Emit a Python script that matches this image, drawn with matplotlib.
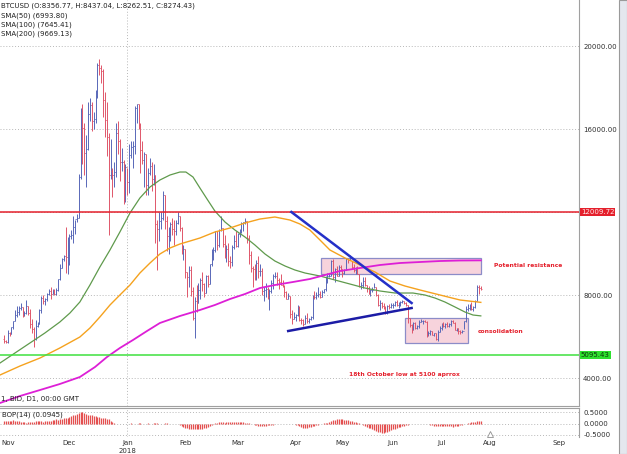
import numpy as np
import matplotlib
matplotlib.use('Agg')
import matplotlib.pyplot as plt
from matplotlib.patches import Rectangle

plt.rcParams['font.family'] = ['DejaVu Sans']

# daily BTCUSD bars, 27 Oct 2017 .. 26 Jul 2018 (no Sunday bars from April on)
high = [
    # Oct 27-31
    6050, 5850, 6310, 6200, 6470,
    # Nov
    6770, 7300, 7450, 7490, 7600, 7420, 7210, 7770, 7450, 7320,
    6820, 6480, 6780, 6710, 7330, 7960, 8000, 7860, 8110, 8290,
    8370, 8300, 8280, 8340, 8760, 9500, 9760, 9950, 11300, 10800,
    # Dec
    10950, 11140, 11800, 11620, 11900, 13850, 17000, 17200, 16300, 15700,
    17300, 17500, 17300, 16800, 17900, 19200, 19350, 19100, 18900, 17800,
    17300, 15800, 15500, 14100, 14400, 16300, 16400, 15500, 15100, 14500, 14300,
    # Jan
    14100, 15300, 15400, 15400, 17100, 17200, 17200, 16300, 15400, 14900,
    14800, 14100, 14600, 14400, 14300, 13800, 11600, 12000, 12000, 13000,
    12800, 11800, 11300, 11500, 11700, 11600, 11600, 12000, 11800, 11300, 10400,
    # Feb
    10200, 9100, 9400, 9400, 8400, 7900, 8500, 8600, 8800, 9100,
    8600, 8950, 8950, 9500, 10200, 10300, 11100, 11100, 11200, 11800,
    11250, 10900, 10400, 10500, 9900, 10400, 10900, 11100,
    # Mar
    11000, 11200, 11500, 11500, 11700, 11550, 10900, 10100, 9400, 9500,
    9700, 9900, 9500, 9300, 8400, 8600, 8400, 8300, 8700, 9000,
    9100, 9100, 8800, 9000, 8700, 8500, 8200, 8100, 7950, 7300, 7200,
    # Apr
    7100, 7500, 7450, 6900, 6850, 7050, 7150, 6900, 6980, 8000,
    8200, 8150, 8400, 8200, 8250, 8300, 8900, 9050, 9000, 9700,
    9750, 9300, 9400, 9450, 9450,
    # May
    9250, 9250, 9800, 9750, 9950, 9650, 9480, 9350, 9400, 9030,
    8650, 8850, 8850, 8500, 8450, 8270, 8380, 8580, 8400, 8030,
    7750, 7650, 7630, 7450, 7520, 7560, 7600,
    # Jun
    7600, 7700, 7760, 7650, 7690, 7750, 7700, 7680, 7530, 6900,
    6620, 6700, 6680, 6550, 6780, 6830, 6800, 6800, 6730, 6250,
    6330, 6280, 6190, 6170, 6300, 6500,
    # Jul
    6650, 6680, 6650, 6690, 6630, 6800, 6800, 6680, 6400, 6390,
    6330, 6310, 6750, 7480, 7580, 7560, 7650, 7450, 7780, 8480,
    8480, 8437.04,
]
low = [
    5700, 5680, 5680, 6030, 6100,
    6380, 6740, 6960, 7030, 7290, 6950, 6970, 7080, 7060, 6420,
    6190, 5510, 5850, 6440, 6600, 7120, 7550, 7510, 7720, 7980,
    7820, 8070, 8020, 8010, 8180, 8730, 9300, 9640, 9050, 9000,
    9450, 10690, 10500, 10920, 11500, 11700, 13600, 14300, 13800, 13200,
    15000, 16400, 15900, 16000, 16300, 17500, 18600, 18200, 16600, 15600,
    14700, 10900, 13600, 12700, 13200, 13700, 14800, 13500, 14000, 12400, 12500,
    12800, 12900, 14600, 14100, 14800, 16300, 16000, 13900, 14300, 13200,
    12800, 12800, 13800, 13000, 13300, 10500, 9200, 10600, 11200, 11600,
    11200, 10100, 10000, 10600, 10900, 10400, 10900, 11400, 11100, 10000, 9700,
    8800, 7900, 8400, 7950, 6800, 5950, 7200, 7600, 7800, 8200,
    7900, 8100, 8400, 8550, 9400, 9700, 10050, 10150, 10300, 11100,
    10300, 9800, 9600, 9400, 9300, 9400, 10200, 10300,
    10300, 10800, 11000, 11100, 11400, 10500, 9500, 9100, 8400, 8700,
    8700, 8800, 8900, 8000, 7700, 7900, 7800, 7300, 8100, 8300,
    8800, 8500, 8300, 8500, 8400, 7900, 7800, 7800, 6900, 6600, 6850,
    6750, 7000, 6750, 6600, 6500, 6600, 6650, 6650, 6800, 6850,
    7800, 7800, 7900, 7850, 7880, 8080, 8200, 8600, 8850, 8900,
    8750, 8650, 8900, 8900, 9150,
    8850, 9000, 9200, 9550, 9700, 9250, 9100, 9000, 9000, 8400,
    8300, 8350, 8450, 8150, 8030, 7950, 8150, 8340, 7970, 7450,
    7300, 7350, 7330, 7100, 7070, 7330, 7380,
    7370, 7480, 7470, 7380, 7480, 7620, 7560, 7480, 6650, 6460,
    6150, 6300, 6380, 6340, 6400, 6680, 6580, 6700, 6000, 6040,
    6090, 6060, 6030, 5850, 5800, 6200,
    6300, 6450, 6420, 6450, 6450, 6520, 6650, 6300, 6280, 6130,
    6130, 6190, 6340, 6700, 7250, 7300, 7300, 7220, 7380, 7700,
    8060, 8262.51,
]
close = [
    5770, 5740, 6150, 6130, 6450,
    6740, 7030, 7170, 7390, 7410, 6990, 7120, 7460, 7150, 6590,
    6340, 5870, 6530, 6600, 7280, 7850, 7700, 7790, 8040, 8200,
    8070, 8250, 8040, 8240, 8750, 9300, 9730, 9900, 9840, 9950,
    10860, 10900, 11290, 11640, 11700, 13700, 16850, 16050, 14850, 15050,
    16700, 17180, 16400, 16500, 17600, 19100, 18950, 18800, 17400, 16450,
    15600, 13800, 14000, 13800, 13950, 15800, 15400, 14400, 14400, 12600, 14150,
    13450, 14750, 15150, 15200, 17000, 17200, 16200, 15000, 14500, 14800,
    13300, 13900, 14200, 13600, 13800, 11400, 11200, 11550, 11700, 12800,
    11550, 10850, 10950, 11400, 11200, 11100, 11450, 11800, 11250, 10100, 10200,
    9100, 8850, 9200, 8200, 6900, 7700, 7600, 8250, 8700, 8550,
    8100, 8900, 8550, 9500, 10050, 10150, 11100, 10400, 11150, 11250,
    10480, 9850, 10200, 9650, 9600, 10300, 10600, 10350,
    10950, 11050, 11450, 11500, 11550, 10750, 9950, 9300, 9250, 8800,
    9550, 9150, 9150, 8200, 8250, 8300, 7900, 8200, 8600, 8900,
    8900, 8700, 8650, 8500, 8450, 8150, 7800, 7950, 7100, 6850, 6950,
    7050, 7400, 6800, 6780, 6620, 6900, 6770, 6830, 6930, 7920,
    7890, 8000, 8050, 7890, 8160, 8280, 8850, 8920, 8940, 9650,
    8870, 9270, 8930, 9350, 9240,
    9070, 9220, 9740, 9700, 9850, 9370, 9190, 9320, 9030, 8440,
    8500, 8680, 8500, 8350, 8060, 8240, 8240, 8400, 8000, 7500,
    7600, 7480, 7350, 7120, 7470, 7400, 7500,
    7530, 7640, 7500, 7630, 7650, 7690, 7620, 7520, 6880, 6550,
    6310, 6640, 6400, 6500, 6700, 6740, 6760, 6720, 6060, 6150,
    6250, 6090, 6160, 5880, 6220, 6390,
    6620, 6500, 6590, 6530, 6600, 6760, 6660, 6300, 6390, 6250,
    6220, 6270, 6740, 7320, 7380, 7470, 7330, 7410, 7720, 8400,
    8356.77, 8274.43,
]
first_open = 5890

# moving averages as drawn on the chart (bar index, price)
sma50_x = [-2.1, 5.9, 13.9, 21.9, 29.9, 35.3, 40.6, 46.0, 51.3, 56.7, 62.0, 67.4,
           72.7, 78.1, 83.4, 88.8, 94.1, 97.3, 101.1, 104.8, 108.6, 112.8, 118.2,
           123.5, 128.9, 134.2, 139.6, 144.9, 150.3, 155.6, 161.0, 169.0, 177.0,
           185.0, 193.0, 201.1, 209.1, 218.7, 225.1, 230.5, 235.8, 241.2, 246.5,
           250.8, 255]
sma50_y = [4723, 5205, 5687, 6169, 6699, 7133, 7663, 8482, 9349, 10169, 11036, 11952,
           12675, 13205, 13542, 13783, 13927, 13927, 13686, 13157, 12626, 12048, 11518,
           11132, 10795, 10410, 9976, 9638, 9398, 9205, 9060, 8916, 8723,
           8530, 8337, 8193, 8096, 8096, 8000, 7855, 7663, 7422, 7181,
           7036, 6993.80]
sma100_x = [-2.1, 8.6, 19.3, 29.9, 40.6, 46.0, 51.3, 56.7, 62.0, 67.4, 72.7, 78.1,
            83.4, 88.8, 94.1, 99.5, 104.8, 112.8, 120.9, 128.9, 136.9, 144.9, 152.9,
            158.3, 163.6, 169.0, 174.3, 182.4, 190.4, 198.4, 206.4, 214.4, 222.5,
            233.2, 243.9, 255]
sma100_y = [4145, 4578, 4964, 5446, 5976, 6410, 6940, 7518, 8000, 8482, 9060, 9542,
            9976, 10265, 10458, 10602, 10747, 11036, 11229, 11470, 11662, 11759, 11614,
            11421, 11132, 10650, 10169, 9783, 9446, 9108, 8675, 8434, 8241,
            8000, 7759, 7645.41]
sma200_x = [-2.1, 8.6, 19.3, 29.9, 40.6, 48.7, 55.1, 62.0, 69.0, 76.5, 83.4, 94.1,
            104.8, 112.8, 120.9, 128.9, 136.9, 144.9, 154.5, 163.6, 171.7, 179.7,
            190.4, 201.1, 211.8, 222.5, 233.2, 243.9, 255]
sma200_y = [2796, 3133, 3422, 3711, 4048, 4530, 5012, 5446, 5831, 6265, 6651, 6988,
            7277, 7518, 7807, 8048, 8337, 8482, 8626, 8771, 8964, 9157,
            9301, 9446, 9542, 9590, 9638, 9663, 9669.13]

# balance of power (14), one value per bar
bop = [
    0.10, 0.12, 0.09, 0.11, 0.13, 0.14, 0.13, 0.12, 0.10, 0.08, 0.06, 0.05, 0.04,
    0.05, 0.06, 0.05, 0.07, 0.09, 0.11, 0.10, 0.09, 0.08, 0.10, 0.11, 0.12,
    0.13, 0.15, 0.16, 0.18, 0.17, 0.19, 0.21, 0.22, 0.24, 0.26,
    0.28, 0.31, 0.35, 0.38, 0.42, 0.45, 0.48, 0.50, 0.46, 0.42,
    0.38, 0.36, 0.35, 0.33, 0.31, 0.30, 0.28, 0.26, 0.25, 0.23, 0.21, 0.19,
    0.10, 0.05, 0.03,
    -0.02, -0.03, -0.04, -0.03, -0.02, -0.03,
    -0.01, -0.02, 0.01, -0.01, -0.02, -0.01, 0.01, 0.02, -0.01, -0.02,
    -0.01, 0.01, -0.01, -0.02, 0.01, 0.02, 0.01, -0.01, -0.02, -0.01,
    0.01, 0.02, -0.01, -0.02, -0.03, -0.02, -0.03, -0.04,
    -0.08, -0.12, -0.15, -0.18, -0.20, -0.22, -0.23, -0.24, -0.25, -0.26,
    -0.25, -0.24, -0.22, -0.20, -0.18, -0.15, -0.12, -0.08,
    -0.03, 0.01, 0.03, 0.05, 0.06, 0.05, 0.04, 0.06, 0.07, 0.05,
    0.06, 0.08, 0.07, 0.06, 0.05, 0.07, 0.06, 0.04, 0.03, 0.02, -0.02,
    -0.04, -0.06, -0.08, -0.09, -0.10, -0.11, -0.10, -0.09, -0.08, -0.07,
    -0.06, -0.05, -0.04, -0.03, -0.04, -0.03, -0.02, -0.03,
    -0.03, -0.04, -0.03, -0.02, -0.03, -0.05, -0.08,
    -0.12, -0.15, -0.18, -0.20, -0.19, -0.17, -0.15, -0.12, -0.10, -0.08, -0.05, -0.03, -0.01,
    0.01, 0.02, 0.04,
    0.08, 0.11, 0.14, 0.16, 0.18, 0.19, 0.20, 0.19, 0.17, 0.15, 0.14, 0.12, 0.10, 0.08, 0.06,
    0.04, 0.02, -0.02,
    -0.08, -0.12, -0.15, -0.18, -0.21, -0.24, -0.28, -0.32, -0.36, -0.39, -0.42, -0.40,
    -0.38, -0.35, -0.32, -0.29, -0.26, -0.23, -0.20, -0.17, -0.15, -0.12, -0.10, -0.08, -0.05,
    -0.03, -0.02, -0.01, -0.02, -0.01, -0.02, -0.01, -0.02, -0.03, -0.02, -0.03,
    -0.05, -0.07, -0.09, -0.10, -0.11, -0.12, -0.13, -0.12, -0.11, -0.10,
    -0.12, -0.13, -0.14, -0.13, -0.12, -0.10, -0.08, -0.06, -0.04, -0.02,
    0.02, 0.04, 0.06, 0.07, 0.08, 0.09, 0.10, 0.0945,
]

month_labels = ['Nov', 'Dec', 'Jan', 'Feb', 'Mar', 'Apr', 'May', 'Jun', 'Jul', 'Aug', 'Sep']
month_pos = [2.5, 35, 66, 97, 125, 156, 181, 208, 234, 260, 297]

resistance = 12009.72
support = 5095.43
trend_down = ([153.7, 218.0], [12000, 7614])
trend_up = ([152.0, 218.0], [6265, 7373])
resist_box = (169.7, 9012, 255.3, 9783)
consol_box = (214.4, 5687, 248.4, 6892)

W, H = 627, 454
fig = plt.figure(figsize=(W / 100, H / 100), dpi=100)

def fx(x):
    return x / W

def fy(y):
    return 1 - y / H

ax = fig.add_axes([0, fy(406), fx(579), 406 / H])
bx = fig.add_axes([0, fy(437), fx(579), 29 / H])

n = len(close)
idx = np.arange(n)
high = np.array(high, float)
low = np.array(low, float)
close = np.array(close, float)
opens = np.concatenate([[first_open], close[:-1]])
up = close >= opens

grid_kw = dict(color='#b8b8b8', lw=0.7, ls=(0, (1, 2)), zorder=0)
for lvl in [4000, 8000, 12000, 16000, 20000]:
    ax.axhline(lvl, **grid_kw)
ax.axvline(66, **grid_kw)

# boxes
for x0, y0, x1, y1 in [resist_box, consol_box]:
    ax.add_patch(Rectangle((x0, y0), x1 - x0, y1 - y0, facecolor='#f7d3dc',
                           edgecolor='#8c8cc8', lw=0.9, zorder=1))

# OHLC bars
for mask, col in [(up, '#5868b8'), (~up, '#e0566a')]:
    ax.vlines(idx[mask], low[mask], high[mask], color=col, lw=0.7, zorder=2)
    ax.hlines(opens[mask], idx[mask] - 0.5, idx[mask], color=col, lw=0.6, zorder=2)
    ax.hlines(close[mask], idx[mask], idx[mask] + 0.5, color=col, lw=0.6, zorder=2)

ax.plot(sma50_x, sma50_y, color='#5f9a4c', lw=0.9, zorder=3)
ax.plot(sma100_x, sma100_y, color='#f5a21e', lw=1.0, zorder=3)
ax.plot(sma200_x, sma200_y, color='#dd1fd6', lw=1.3, zorder=3)

ax.axhline(resistance, color='#e4202c', lw=1.1, zorder=4)
ax.axhline(support, color='#3fe03f', lw=1.1, zorder=4)

ax.plot(*trend_down, color='#2430c8', lw=1.8, zorder=5)
ax.plot(*trend_up, color='#1c1ca6', lw=1.8, zorder=5)

red = '#e4202c'
ax.text(262, 9398, 'Potential resistance', color=red, fontsize=4.3,
        fontweight='bold', va='center', ha='left', zorder=6)
ax.text(253.5, 6265, 'consolidation', color=red, fontsize=4.3,
        fontweight='bold', va='center', ha='left', zorder=6)
ax.text(184.5, 4145, '18th October low at 5100 aprrox', color=red, fontsize=4.3,
        fontweight='bold', va='center', ha='left', zorder=6)

ax.set_xlim(-2.1, 307.5)
ax.set_ylim(2651, 22217)
ax.yaxis.tick_right()
ax.set_yticks([4000, 8000, 16000, 20000])
ax.set_yticklabels(['%.2f' % v for v in [4000, 8000, 16000, 20000]])
ax.tick_params(axis='y', length=0, pad=3, labelsize=5, labelcolor='#303030')
ax.set_xticks([])
for s in ['left', 'top']:
    ax.spines[s].set_visible(False)
for s in ['right', 'bottom']:
    ax.spines[s].set_color('#a0a0a0')
    ax.spines[s].set_linewidth(0.8)

# price tags on the axis
ax.text(1.003, resistance, '%.2f' % resistance, transform=ax.get_yaxis_transform(),
        fontsize=5, color='#ffe8e8', va='center', ha='left', zorder=7, clip_on=False,
        bbox=dict(boxstyle='square,pad=0.15', facecolor='#e4202c', edgecolor='none'))
ax.text(1.003, support, '%.2f' % support, transform=ax.get_yaxis_transform(),
        fontsize=5, color='#0c3a0c', va='center', ha='left', zorder=7, clip_on=False,
        bbox=dict(boxstyle='square,pad=0.15', facecolor='#2ee02e', edgecolor='none'))

# BOP panel
for lvl in [0.5, 0.0, -0.5]:
    bx.axhline(lvl, **grid_kw)
bx.axvline(66, **grid_kw)
bx.vlines(np.arange(len(bop)), 0, bop, color='#e45050', lw=0.9, zorder=2)
bx.plot([260], [-0.46], marker='^', ms=4.5, mfc='white', mec='#909090', mew=0.6,
        zorder=3, clip_on=False)
bx.set_xlim(-2.1, 307.5)
bx.set_ylim(-0.587, 0.674)
bx.yaxis.tick_right()
bx.set_yticks([0.5, 0.0, -0.5])
bx.set_yticklabels(['0.5000', '0.0000', '-0.5000'])
bx.tick_params(axis='y', length=0, pad=3, labelsize=5, labelcolor='#303030')
bx.set_xticks(month_pos)
bx.set_xticklabels(month_labels)
bx.tick_params(axis='x', length=0, pad=2.5, labelsize=5, labelcolor='#303030')
for s in ['left', 'bottom']:
    bx.spines[s].set_visible(False)
for s in ['right', 'top']:
    bx.spines[s].set_color('#a0a0a0')
    bx.spines[s].set_linewidth(0.8)

# header texts
txt = dict(fontsize=5, color='#202020', va='center', ha='left')
fig.text(fx(1), fy(6), 'BTCUSD (O:8356.77, H:8437.04, L:8262.51, C:8274.43)', **txt)
fig.text(fx(1), fy(16), 'SMA(50) (6993.80)', **txt)
fig.text(fx(1), fy(25), 'SMA(100) (7645.41)', **txt)
fig.text(fx(1), fy(34), 'SMA(200) (9669.13)', **txt)
fig.text(fx(1), fy(399), '1, BID, D1, 00:00 GMT', **txt)
fig.text(fx(2), fy(415), 'BOP(14) (0.0945)', **txt)
fig.text(fx(127), fy(451), '2018', fontsize=5, color='#303030', ha='center', va='center')

# scroll bar strip at the right edge
fig.patches.append(Rectangle((fx(619), 0), fx(8), 1, transform=fig.transFigure,
                             facecolor='#e4e7ee', edgecolor='#9a9a9a', lw=0.8))

fig.savefig('out.png', dpi=100)
